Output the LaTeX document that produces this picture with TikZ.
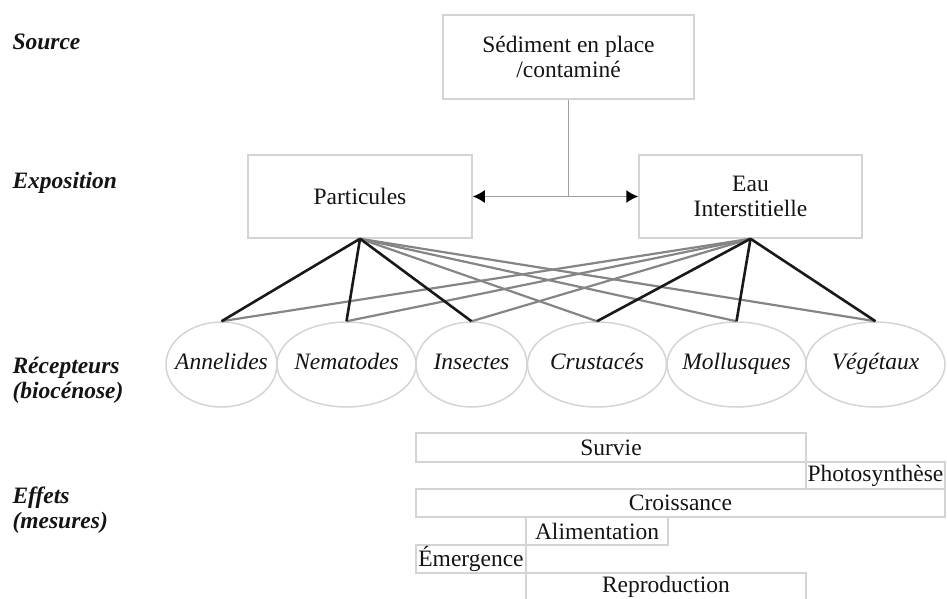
\documentclass[tikz,border=0pt]{standalone}
\usepackage{fontspec}
\setmainfont{Liberation Serif}
\usetikzlibrary{shapes.geometric,arrows.meta}

\definecolor{boxgray}{HTML}{D4D4D4}
\definecolor{conngray}{HTML}{A0A0A0}
\definecolor{linegray}{HTML}{858585}
\definecolor{txt}{HTML}{141414}

\begin{document}
\begin{tikzpicture}[x=1pt, y=-1pt,
        every node/.style={font=\fontsize{23.5}{25.5}\selectfont, text=txt},
        box/.style={draw=boxgray, line width=1.5pt, align=center},
        recep/.style={ellipse, draw=boxgray, line width=1.5pt, minimum width=139pt, minimum height=85pt, inner sep=0pt},
        effet/.style={draw=boxgray, line width=1.3pt, inner sep=1pt, minimum height=28pt},
        rowlabel/.style={anchor=west, align=left, font=\fontsize{23.5}{25}\selectfont\bfseries\itshape},
        conn/.style={draw=conngray, line width=1.5pt},
        link/.style={line width=2.6pt, black!90},
        cross/.style={line width=2.2pt, linegray}]

        \useasboundingbox (0,0) rectangle (947,599);

        % row labels
        \node[rowlabel] (lsrc) at (9,42) {Source};
        \node[rowlabel] (lexp) at (9,183) {Exposition};
        \node[rowlabel] (lrec) at (9,380) {Récepteurs\\(biocénose)};
        \node[rowlabel] (leff) at (9,510) {Effets\\(mesures)};

        % source and exposition
        \node[box, minimum width=251pt, minimum height=84pt] (src) at (568.5,57) {Sédiment en place\\/contaminé};
        \node[box, minimum width=224pt, minimum height=83pt] (part) at (360,196.5) {Particules};
        \node[box, minimum width=223pt, minimum height=83pt] (eau) at (750.5,196.5) {Eau\\Interstitielle};

        \coordinate (jn) at (src.south |- part.east);
        \draw[conn] (src.south) -- (jn);
        \draw[conn, -{Latex[color=black, length=12pt, width=13pt]}] (jn) -- (part.east);
        \draw[conn, -{Latex[color=black, length=12pt, width=13pt]}] (jn) -- (eau.west);

        % receptors
        \node[recep, minimum width=111pt, label=center:{\itshape\strut Annelides}] (ann) at (221.5,364.5) {};
        \node[recep, label=center:{\itshape\strut Nematodes}] (nem) at (346.5,364.5) {};
        \node[recep, minimum width=111pt, label=center:{\itshape\strut Insectes}] (ins) at (471.5,364.5) {};
        \node[recep, label=center:{\itshape\strut Crustacés}] (cru) at (597,364.5) {};
        \node[recep, label=center:{\itshape\strut Mollusques}] (mol) at (736.5,364.5) {};
        \node[recep, label=center:{\itshape\strut Végétaux}] (veg) at (875.5,364.5) {};

        % gray links
        \draw[cross] (part.south) -- (cru.north);
        \draw[cross] (part.south) -- (mol.north);
        \draw[cross] (part.south) -- (veg.north);
        \draw[cross] (eau.south) -- (ann.north);
        \draw[cross] (eau.south) -- (nem.north);
        \draw[cross] (eau.south) -- (ins.north);

        % black links
        \draw[link] (part.south) -- (ann.north);
        \draw[link] (part.south) -- (nem.north);
        \draw[link] (part.south) -- (ins.north);
        \draw[link] (eau.south) -- (cru.north);
        \draw[link] (eau.south) -- (mol.north);
        \draw[link] (eau.south) -- (veg.north);

        % effects
        \node[effet, minimum width=390pt, minimum height=29pt] (surv) at (611,447.5) {Survie};
        \node[effet, minimum width=139pt, minimum height=27pt] (photo) at (875.5,475.5) {Photosynthèse};
        \node[effet, minimum width=529pt] (crois) at (680.5,503) {Croissance};
        \node[effet, minimum width=142pt] (alim) at (597,531) {Alimentation};
        \node[effet, minimum width=110pt] (emerg) at (471,559) {Émergence};
        \node[effet, minimum width=280pt] (repro) at (666,587) {Reproduction};
    \end{tikzpicture}
\end{document}
